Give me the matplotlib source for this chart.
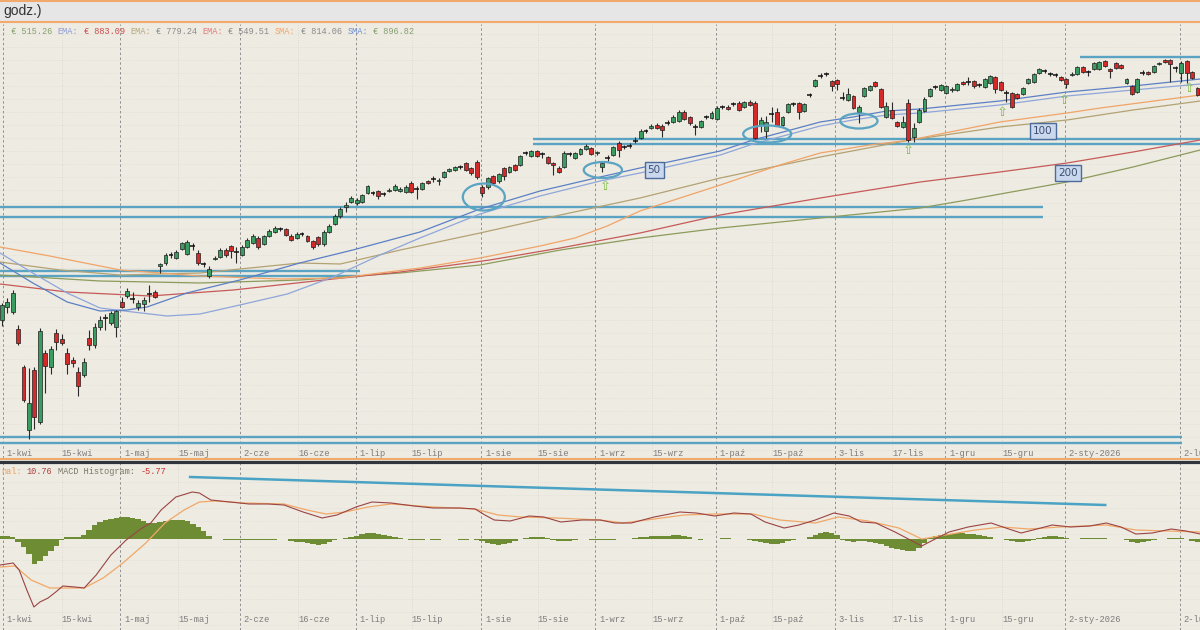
import matplotlib
matplotlib.use("Agg")
import matplotlib.pyplot as plt
from matplotlib.patches import Ellipse, Rectangle
from matplotlib.lines import Line2D

# ---------------- DATA (price units, one candle per trading day) ----------------
opens = [180, 193, 188, 171, 133, 70, 130, 78, 147, 133,
         167, 161, 147, 140, 128, 125, 162, 155, 173, 182,
         177, 173, 198, 204, 201, 193, 196, 206, 208, 234,
         237, 245.5, 242, 251, 246, 254, 247, 236, 224, 241,
         243, 250, 254, 248, 245, 253, 257, 262, 256, 264,
         268, 271, 271, 264, 262, 266, 264, 259, 263, 256,
         268, 276, 284, 293, 298, 297, 298, 307, 307, 309,
         306, 309, 310, 309, 308, 317, 311, 311, 319, 321,
         319, 323, 329, 330, 333, 337, 332, 338, 313, 313,
         324, 319, 332, 328, 335, 335, 347, 344, 349, 346,
         343, 337, 332, 333, 346, 342, 346, 351, 352, 347,
         333, 342, 345, 357, 353, 354.5, 359, 362, 369, 372,
         375, 374, 377, 378, 379, 388, 383, 373, 373, 383,
         382, 381, 393, 393, 396, 397, 393, 398, 397, 375,
         369, 386, 388, 375, 388, 396, 397, 389, 405, 414,
         424, 426, 419, 420, 402, 400, 404, 388, 404, 410,
         418, 411, 383, 390, 378, 373, 397, 363, 378, 389,
         404, 413, 410, 407, 410, 410, 418, 418, 419, 415,
         413, 417, 423, 418, 407, 407, 406, 406, 417, 418,
         427, 429, 426, 425, 423, 421, 425, 426, 433, 428,
         431, 431, 439, 431, 437, 435, 417, 414, 408, 427,
         428, 428, 436, 440, 440, 432, 427, 439, 428, 412]
closes = [195, 198, 207, 157, 100, 97, 83, 169, 134, 151,
          158, 157, 136, 137, 114, 138, 155, 173, 180, 181.5,
          187, 189, 193, 209, 200.5, 197, 200, 205.5, 203, 236,
          245, 246, 248, 257, 258, 253.5, 237, 235.5, 231, 242,
          250, 245, 249, 247.5, 253, 260, 264, 253, 264, 269,
          272, 270.5, 265, 260, 266, 265.5, 259, 253, 256, 268,
          274, 284, 291, 295, 302, 300, 305, 314, 306.5, 304,
          305.5, 310, 314, 311, 313, 308, 310.5, 317, 317, 320.5,
          320, 328, 331, 333, 332.5, 330, 327, 323, 307, 322,
          317, 326, 324, 333, 330, 344, 346.5, 349, 344, 345.5,
          337, 335, 328, 347, 345.5, 347, 351, 354, 346, 348,
          337, 341.5, 353, 350, 352.5, 354, 358.5, 369, 369.5, 374,
          372, 370, 377.5, 383, 388, 381, 377, 373.5, 379, 383.5,
          387, 392, 393.5, 391, 396.5, 390, 398, 395, 362, 380,
          378, 386.5, 375, 383, 396, 396.5, 388, 396, 405.5, 420,
          424.5, 426.5, 414, 416, 402.5, 406, 392, 393, 412, 414,
          414, 393, 394, 382, 374, 378, 360, 372, 390, 401,
          411, 413.5, 415, 414, 411, 416, 416, 418.5, 414, 415.5,
          421, 424, 411, 410, 407.5, 393, 402, 412, 421, 426,
          431, 429.5, 426.5, 425.5, 420, 416, 426, 433, 428, 428.5,
          437, 438, 434, 429, 432, 432, 421, 406, 421, 427.5,
          426, 434, 437, 438, 436, 432.5, 437, 427, 422, 405]
highs = [197, 202, 210, 175, 135, 132, 133, 172, 150, 154,
         171, 166, 152, 143, 133, 142, 170, 177, 184, 186,
         189, 190, 203, 212, 208, 200, 203, 215, 210, 237,
         247, 248, 250, 258, 260, 257, 250, 238, 234, 244,
         252, 252, 255, 253, 255, 262, 266, 264, 265, 271,
         274, 273, 272, 266, 268, 268, 265, 260, 264, 270,
         276, 286, 293, 298, 304, 302, 306, 315, 309, 310,
         308, 312, 316, 313, 315, 319, 314, 318, 320, 324,
         322, 329, 332, 334, 335, 338, 333, 340, 315, 323,
         325, 327, 333, 334, 336, 345, 349, 350, 350, 348,
         344, 338, 334, 349, 348, 348, 352, 356, 353, 349,
         339, 345, 354, 359, 355, 357, 363, 371, 371, 376,
         377, 376, 380, 385, 390, 390, 384, 376, 380, 385,
         389, 394, 395, 395, 398, 399, 399, 400, 399, 383,
         384, 393, 392, 384, 397, 398, 398, 397, 407, 421,
         427, 428, 420, 421, 408, 412, 405, 395, 413, 415,
         419, 412, 398, 398, 379, 384, 401, 377, 392, 403,
         412, 415, 416, 415, 413, 417, 419, 423, 420, 417,
         422, 425, 424, 419, 410, 408, 407, 413, 422, 427,
         432, 431, 428, 427, 424, 422, 428, 434, 434, 430,
         438, 439, 440, 432, 438, 436, 422, 415, 422, 430,
         429, 435, 438, 441, 441, 434, 439, 440, 429, 413]
lows = [174, 187, 186, 155, 98, 61, 71, 76, 107, 126,
        150, 155, 126, 133, 104, 123, 150, 152, 170, 170,
        175, 163, 192, 202, 197, 190, 189, 198, 202, 227,
        235, 242, 241, 250, 245, 250, 235, 233, 222, 240,
        242, 243, 242, 237, 244, 252, 256, 251, 255, 263,
        267, 269, 264, 259, 261, 264, 258, 251, 254, 254,
        267, 275, 282, 288, 297, 295, 297, 306, 305, 301,
        304, 308, 309, 308, 307, 307, 301, 310, 316, 318,
        315, 322, 328, 329, 331, 329, 325, 321, 303, 311,
        315, 317, 320, 327, 329, 334, 345, 343, 343, 342,
        336, 325, 327, 332, 344, 341, 345, 350, 345, 345,
        328, 339, 344, 343, 351, 352, 357, 361, 367, 371,
        371, 363, 375, 377, 378, 380, 375, 365, 372, 381,
        381, 380, 391, 390, 394, 389, 392, 394, 361, 368,
        362, 378, 374, 374, 387, 394, 381, 388, 403, 413,
        422, 424, 409, 410, 400, 399, 391, 377, 403, 409,
        413, 392, 382, 381, 373, 372, 358, 358, 377, 388,
        403, 411, 409, 406, 408, 409, 415, 415, 412, 413,
        412, 416, 407, 409, 398, 392, 401, 405, 416, 417,
        426, 427, 424, 423, 419, 412, 424, 425, 427, 424,
        430, 430, 433, 422, 431, 431, 416, 405, 407, 425,
        425, 427, 435, 437, 418, 428, 418, 417, 421, 404]

# MACD histogram, one bar per candle
macd_hist = [3, 3, 2, -3, -8, -15, -25, -22, -17, -12,
             -7, -1, 2, 2.5, 2.5, 4, 9, 14, 17, 19,
             20, 21, 22, 22, 21, 20, 18, 16, 16, 17,
             18, 19, 19, 19, 18, 15, 12, 8, 3, 0,
             0, -1, -1, -1, -1, -1, -1, -1, -1, -1,
             -1, 0, 0, -2, -3, -3, -4, -5, -6, -5,
             -3, -1, 0, 1, 2, 3, 5, 6, 6, 5,
             4, 3, 2, 1, 0, -1, -1, -1, 0, -1,
             -1, 0, 0.5, 0, -1, -1, 0, -1, -2, -4,
             -5, -6, -5, -4, -2, 0, 1, 2, 2, 2,
             1, -1, -2, -2, -2, -1, 0, 0, -1, -1,
             -1, -1, -1, 0, 0, 0, 1, 2, 2, 3,
             3, 3, 3, 4, 4, 3, 2, 0, -0.5, 0,
             0.5, 0.5, 1, 1, 0.5, 0.5, 0.5, -1, -2, -3,
             -4, -5, -5, -4, -2, -0.5, 0, 0.5, 2, 4,
             6, 7, 6, 4, -1, -2, -3, -2, -2, -3,
             -4, -5, -7, -9, -10, -11, -12, -12, -9, -4,
             1, 3, 4, 5, 5, 6, 6, 5, 5, 4,
             3, 2, 0.5, 0, -1, -2, -3, -3, -2, -1,
             1, 2, 3, 3, 2, 1, 0, 0.5, 1, 1,
             1, 1.5, 1, 0.5, 0, 0, -1, -3, -4, -3,
             -2, -1, 0, 0.5, 1, 1, 1, 0, -2, -3]

# Moving averages (candle index, price)
sma50_x = [-0.3, 5.7, 12.0, 18.0, 24.0, 30.3, 36.3, 43.6, 52.3, 60.7, 69.3, 76.6, 87.6,
           98.6, 109.6, 116.9, 131.6, 137.6, 143.8, 149.9, 155.9, 162.1, 168.2, 182.8,
           195.1, 207.2, 219.5]
sma50_y = [247, 227, 207, 192, 188, 184, 186, 195, 206, 223, 245, 262, 286,
           304, 319, 327, 345, 356, 365, 374, 380, 385, 387, 395, 404, 410, 416]
ema50_x = [-0.3, 5.7, 12.0, 18.0, 23.0, 26.6, 33.9, 43.6, 54.6, 64.3, 76.6, 87.6, 98.6,
           109.6, 116.9, 131.6, 137.6, 143.8, 149.9, 155.9, 162.1, 168.2, 182.8, 195.1,
           207.2, 219.5]
ema50_y = [237, 217, 198, 189, 190, 193, 207, 220, 237, 250, 268, 291, 309,
           323, 332, 349, 360, 369, 378, 383, 389, 391, 399, 408, 414, 421]
sma100_x = [-0.3, 8.8, 21.7, 36.3, 51.0, 62.0, 76.6, 87.6, 98.6, 105.0, 110.9, 116.9,
            131.6, 142.5, 149.9, 159.0, 166.4, 182.8, 195.1, 201.2, 219.5]
sma100_y = [253, 244, 230, 224, 221, 222, 232, 242, 254, 262, 274, 289,
            315, 335, 347, 355, 360, 378, 387, 392, 405]
ema100_x = [-0.3, 10.7, 21.7, 36.3, 54.6, 62.0, 73.0, 87.6, 102.3, 116.9, 131.6, 149.9,
            166.4, 182.8, 195.1, 207.2, 219.5]
ema100_y = [238, 230, 225, 227, 237, 236, 250, 267, 285, 302, 322, 343,
            360, 373, 380, 390, 399]
ema200_x = [-0.3, 12.0, 27.2, 42.4, 60.7, 73.0, 89.4, 102.3, 116.9, 131.6, 149.9, 168.2,
            182.8, 195.1, 207.2, 219.5]
ema200_y = [216, 208, 204, 210, 221, 228, 240, 252, 267, 285, 302, 318, 328, 337, 348, 360]
sma200_x = [-0.3, 18.0, 36.3, 54.6, 73.0, 87.6, 102.3, 116.9, 131.6, 149.9, 168.2, 176.8,
            195.1, 207.2, 219.5]
sma200_y = [225, 219, 217, 220, 227, 235, 250, 262, 272, 282, 292, 300, 318, 333, 350]

# MACD and signal lines (candle index, value)
macd_x = [-0.3, 2.1, 3.2, 4.6, 5.9, 7.0, 8.5, 9.9, 11.2, 13.4, 15.1, 17.3, 20.0, 22.8, 25.7,
          27.3, 29.2, 31.9, 34.9, 36.2, 38.3, 41.8, 45.3, 48.8, 51.7, 55.2, 58.7, 61.4,
          64.9, 67.8, 71.3, 75.5, 79.0, 83.9, 86.7, 88.5, 90.2, 93.1, 96.6, 99.3, 102.4,
          106.3, 109.6, 112.3, 115.3, 119.5, 124.2, 127.2, 130.6, 134.1, 137.2, 139.8,
          143.3, 146.0, 149.0, 152.4, 155.2, 157.4, 160.1, 163.6, 166.4, 168.5, 170.6,
          173.5, 177.0, 181.2, 183.9, 186.7, 189.6, 192.4, 195.8, 199.3, 202.3, 205.0,
          207.7, 210.7, 214.2, 216.9, 219.5]
macd_y = [-26, -24, -31, -51, -68, -63, -59, -53, -47, -48, -49, -36, -16, -1, 11,
          16, 29, 42, 47, 46, 39, 37, 35, 35, 34, 27, 21, 24,
          32, 37, 36, 33, 31, 31, 30, 24, 19, 18, 23, 22, 17,
          19, 19, 16, 16, 22, 27, 26, 23, 26, 25, 17,
          11, 14, 19, 26, 23, 17, 16, 7, -1, -7, -1,
          7, 12, 16, 11, 6, 10, 14, 12, 13, 16, 12,
          5, 6, 10, 8, 5]
signal_x = [-0.3, 2.4, 5.4, 8.8, 12.3, 15.1, 18.6, 22.2, 26.4, 29.9, 33.4, 36.2, 39.1, 44.6,
            51.7, 55.9, 59.4, 62.9, 67.1, 71.3, 79.0, 86.7, 90.9, 95.1, 101.5, 109.6, 113.8,
            119.5, 125.0, 130.6, 137.6, 142.5, 149.0, 153.2, 158.7, 164.3, 168.5, 172.8,
            178.3, 183.2, 188.1, 193.8, 202.3, 207.7, 213.4, 219.5]
signal_y = [-28, -27, -41, -49, -49, -49, -39, -24, -4, 16, 29, 37, 38, 36,
            35, 29, 25, 27, 32, 35, 32, 30, 24, 22, 21, 19, 16,
            20, 24, 25, 25, 19, 16, 22, 18, 11, 0, 4,
            9, 12, 10, 12, 14, 9, 8, 7]

# Horizontal support / resistance lines (price, from index, to index)
level_price = [229, 224, 293.5, 283.5, 361, 356, 443, 63, 57]
level_start = [-0.3, -0.3, -0.3, -0.3, 97.3, 97.3, 197.5, -0.3, -0.3]
level_end = [65.6, 65.6, 190.7, 190.7, 220, 220, 220, 216.2, 216.2]

# MACD trend line (index, value)
trend_x = [34.5, 202.1]
trend_y = [62, 34]

# Highlight ellipses (center index, center price, width in candles, height in price)
ell_x = [88.3, 110.1, 140.2, 157.0]
ell_y = [303, 330, 366, 379]
ell_w = [7.7, 7.0, 8.8, 6.8]
ell_h = [27, 16, 17, 15]

# Green arrows (index, price)
arrow_x = [110.5, 166.0, 183.2, 194.7, 217.5]
arrow_y = [313, 350, 387, 400, 412]

# Period tags
tag_text = ['50', '100', '200']
tag_x = [119.5, 190.7, 195.3]
tag_y = [330, 369, 327]

# Date axis
tick_labels = ['1-kwi', '15-kwi', '1-maj', '15-maj', '2-cze', '16-cze', '1-lip', '15-lip',
               '1-sie', '15-sie', '1-wrz', '15-wrz', '1-paź', '15-paź', '3-lis', '17-lis',
               '1-gru', '15-gru', '2-sty-2026', '2-lut']
tick_pos = [0.2, 11.0, 21.7, 32.3, 43.6, 54.3, 64.9, 75.1, 87.8, 98.2, 108.7, 119.1,
            130.8, 141.1, 152.6, 163.1, 172.8, 183.2, 194.7, 215.8]
tick_month = [1, 0, 1, 0, 1, 0, 1, 0, 1, 0, 1, 0, 1, 0, 1, 0, 1, 0, 1, 1]

# Indicator legend texts and colours
legend_texts = [': € 515.26', 'EMA:', '€ 883.09', 'EMA:', '€ 779.24', 'EMA:', '€ 549.51',
                'SMA:', '€ 814.06', 'SMA:', '€ 896.82']
legend_colors = ['#86a070', '#8c9bd6', '#d04a4a', '#b5a67a', '#8a8a8a', '#e07a7a',
                 '#8a8a8a', '#f0a46a', '#8a8a8a', '#6f8fd0', '#86a070']
macd_texts = ['nal:', '10.76', 'MACD Histogram:', '-5.77']
macd_colors = ['#e8a060', '#b04040', '#7a7a6a', '#c83030']

# ---------------- FIGURE ----------------
BG = '#eeebe2'
MONO = ['Liberation Mono', 'DejaVu Sans Mono']
W, H = 1200.0, 630.0

fig = plt.figure(figsize=(12, 6.3), dpi=100)
fig.patch.set_facecolor(BG)


def fy(px):
    return 1 - px / H


ax = fig.add_axes([0, fy(458), 1, (458 - 24) / H])
axm = fig.add_axes([0, 0, 1, fy(463)])
X0, X1 = -0.31, 219.46
ax.set_xlim(X0, X1)
ax.set_ylim(42, 476)
axm.set_xlim(X0, X1)
axm.set_ylim(-91, 76)
for a in (ax, axm):
    a.set_facecolor(BG)
    a.set_xticks([])
    a.set_yticks([])
    for s in a.spines.values():
        s.set_visible(False)

# faint grid
v = 50
while v < 476:
    ax.axhline(v, color='#dcd8ce', lw=0.5, ls=(0, (1, 2)), zorder=0)
    v += 13
v = -86
while v < 76:
    axm.axhline(v, color='#dcd8ce', lw=0.5, ls=(0, (1, 2)), zorder=0)
    v += 13

# date lines and labels
for lab, pos, mon in zip(tick_labels, tick_pos, tick_month):
    for a in (ax, axm):
        if mon:
            a.axvline(pos, color='#909090', lw=0.7, ls=(0, (2.5, 2.5)), zorder=1)
        else:
            a.axvline(pos, color='#d6d2c8', lw=0.6, ls=(0, (1, 2)), zorder=0)
    tx = pos + 0.7 if mon else pos
    ax.text(tx, 47, lab, family=MONO, fontsize=6.3, color='#7c7c7c',
            ha='left', va='center', zorder=6)
    axm.text(tx, -81, lab, family=MONO, fontsize=6.3, color='#7c7c7c',
             ha='left', va='center', zorder=6)

# support lines
ax.hlines(level_price, level_start, level_end, color='#5aa3c3', lw=1.7, zorder=2)

# moving averages
ax.plot(sma200_x, sma200_y, color='#8d9b5c', lw=0.9, zorder=2.5)
ax.plot(ema200_x, ema200_y, color='#c65a58', lw=0.9, zorder=2.5)
ax.plot(ema100_x, ema100_y, color='#b3a272', lw=0.9, zorder=2.5)
ax.plot(sma100_x, sma100_y, color='#f0a468', lw=0.9, zorder=2.5)
ax.plot(sma50_x, sma50_y, color='#8ea6da', lw=0.9, zorder=2.6)
ax.plot(ema50_x, ema50_y, color='#5b80c6', lw=0.9, zorder=2.6)

# candles
for i in range(len(opens)):
    o, h, l, c = opens[i], highs[i], lows[i], closes[i]
    ax.vlines(i, l, h, color='#2a2a2a', lw=0.8, zorder=3)
    if abs(c - o) < 1:
        ax.hlines(o, i - 0.45, i + 0.45, color='#111111', lw=1.1, zorder=4)
    else:
        col = '#3a9c60' if c > o else '#d42a2a'
        ax.bar(i, c - o, bottom=o, width=0.72, color=col, edgecolor='#1e1e1e',
               lw=0.5, zorder=4)

# ellipses
for ex, ey, ew, eh in zip(ell_x, ell_y, ell_w, ell_h):
    ax.add_patch(Ellipse((ex, ey), ew, eh, fill=False, ec='#5aa3c3', lw=1.6, zorder=5))

# arrows
for axx, ayy in zip(arrow_x, arrow_y):
    ax.text(axx, ayy, '⇧', family='DejaVu Sans', fontsize=9.5, color='#80bb4a',
            ha='center', va='center', zorder=6)

# period tags
for t, tx, ty in zip(tag_text, tag_x, tag_y):
    ax.text(tx, ty, t, family='DejaVu Sans', fontsize=7.5, color='#3d4d72',
            ha='center', va='center', zorder=6,
            bbox=dict(boxstyle='square,pad=0.3', fc='#c9d8ec', ec='#4d6c9c', lw=1))

# MACD panel
axm.bar(range(len(macd_hist)), macd_hist, width=1.0, color='#6e8c34', lw=0, zorder=2)
axm.plot(signal_x, signal_y, color='#f0a868', lw=0.9, zorder=3)
axm.plot(macd_x, macd_y, color='#9a4444', lw=0.8, zorder=3.1)
axm.plot(trend_x, trend_y, color='#4aa3c4', lw=1.8, zorder=3.2)

# top bar
fig.add_artist(Rectangle((0, fy(21)), 1, 21 / H, transform=fig.transFigure,
                         fc='#e6e6e6', ec='none', zorder=0))
fig.add_artist(Line2D([0, 1], [fy(1), fy(1)], transform=fig.transFigure,
                      color='#f2aa6c', lw=1.5))
fig.add_artist(Line2D([0, 1], [fy(22), fy(22)], transform=fig.transFigure,
                      color='#f2aa6c', lw=1.5))
fig.text(3 / W, fy(11), 'godz.)', family=['Liberation Sans', 'DejaVu Sans'],
         fontsize=10, color='#333333', va='center', ha='left')

# panel separator
fig.add_artist(Line2D([0, 1], [fy(458.5), fy(458.5)], transform=fig.transFigure,
                      color='#f2aa6c', lw=1.5, zorder=10))
fig.add_artist(Line2D([0, 1], [fy(461.5), fy(461.5)], transform=fig.transFigure,
                      color='#30353d', lw=2.3, zorder=10))

# indicator legends: monospace segments laid out one after the other
LEG_FS = 6.2
CW = 0.6 * LEG_FS * 100 / 72.0   # pixel width of one monospace character


def legend_row(texts, colors, y_px, x_px=1.0):
    for t, col in zip(texts, colors):
        fig.text(x_px / W, fy(y_px), t, family=MONO, fontsize=LEG_FS, color=col,
                 ha='left', va='center')
        x_px += (len(t) + 1) * CW


legend_row(legend_texts, legend_colors, 31)
legend_row(macd_texts, macd_colors, 471)

fig.savefig('out.png', dpi=100, facecolor=BG)
